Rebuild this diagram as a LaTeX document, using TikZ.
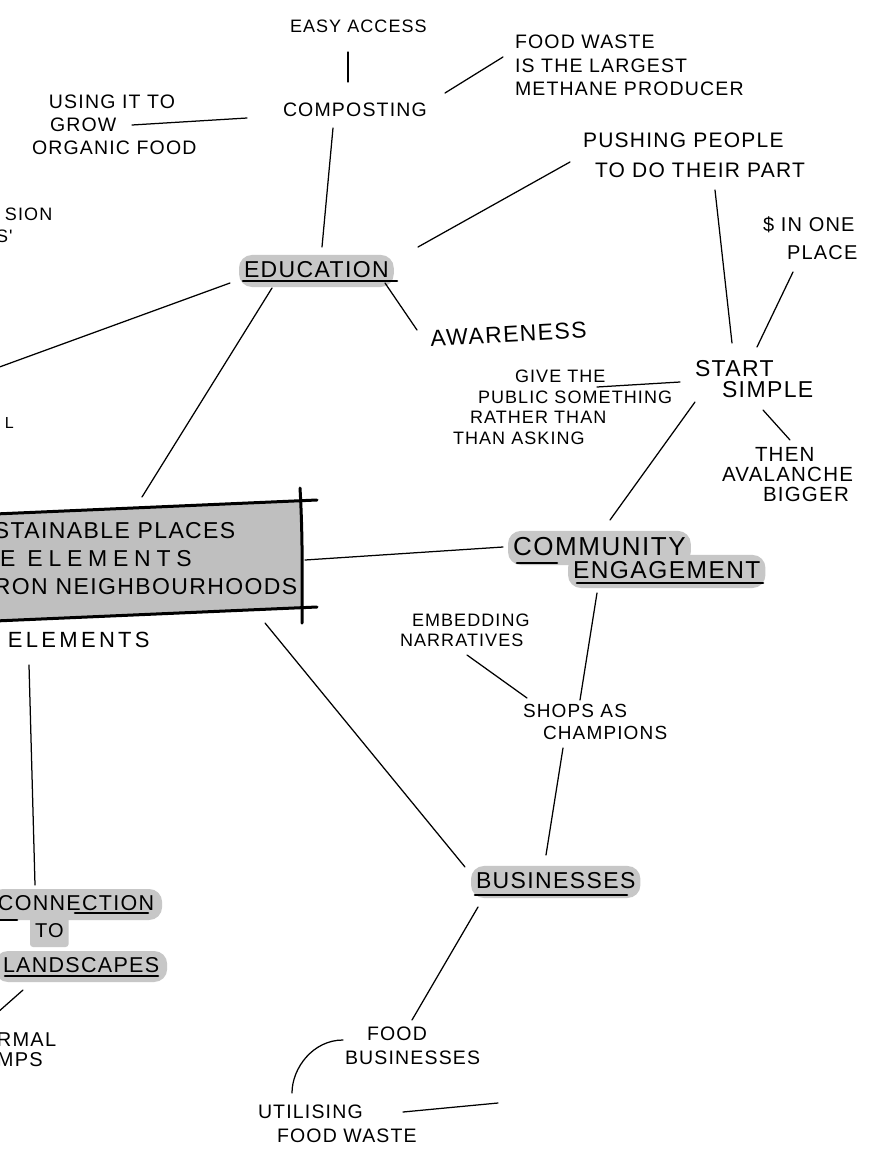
\documentclass[tikz,border=0pt]{standalone}
\usepackage{fontspec}
\newfontfamily\hand[LetterSpace=6]{Liberation Sans}
\newcommand{\hw}[2]{\hand\fontsize{#1}{#2}\selectfont}
\usetikzlibrary{calc}
\pgfdeclarelayer{paper}
\pgfdeclarelayer{shade}
\pgfsetlayers{paper,shade,main}
\definecolor{pillgray}{gray}{0.78}
\definecolor{boxgray}{gray}{0.75}

\tikzset{
  note/.style={anchor=north west, inner sep=0pt, outer sep=0pt, align=left, font=\hw{19}{23}},
  tag/.style={anchor=base west, inner xsep=5pt, inner ysep=6pt, text depth=4pt, outer sep=0pt},
  link/.style={line width=1.25pt, line cap=round},
  uline/.style={line width=2.6pt, line cap=round},
  frame/.style={line width=3pt, line cap=round},
  pill/.style={fill=pillgray, rounded corners=13pt},
}

\begin{document}
\begin{tikzpicture}[x=1pt,y=1pt]

\begin{pgfonlayer}{paper}
\fill[white] (0,0) rectangle (873,-1160);
\end{pgfonlayer}
\useasboundingbox (0,0) rectangle (873,-1160);
\clip (0,0) rectangle (873,-1160);

% Central box
\fill[boxgray] (-5,-514) -- (301,-501) -- (301,-607) -- (-5,-621) -- cycle;
\draw[frame] (-5,-514) -- (317,-500);
\draw[frame] (-5,-621) -- (317,-607);
\draw[frame] (300,-488) .. controls (303,-540) and (302,-580) .. (302,-623);

% Define nodes
\node[note, font=\hw{23}{28}] (core) at (-6,-522)
{STAINABLE PLACES\\{\addfontfeature{LetterSpace=25}\hspace*{6pt}E ELEMENTS}\\RON NEIGHBOURHOODS};
\node[note, font=\hw{18}{22}] (access) at (290,-20) {EASY ACCESS};
\node[note, font=\hw{19.5}{24}] (comp) at (283,-103) {COMPOSTING};
\node[note, font=\hw{19.5}{23.5}] (waste) at (515,-35)
{FOOD WASTE\\IS THE LARGEST\\METHANE PRODUCER};
\node[note, font=\hw{19.5}{23}] (grow) at (32,-95)
{\hspace*{17pt}USING IT TO\\\hspace*{18pt}GROW\\ORGANIC FOOD};
\node[tag, font=\hw{23}{26}] (edu) at (239,-277) {EDUCATION};
\node[note, font=\hw{21}{30}] (push) at (583,-133)
{PUSHING PEOPLE\\\hspace*{12pt}TO DO THEIR PART};
\node[note, font=\hw{20}{28}] (dollar) at (763,-217) {\$ IN ONE\\\hspace*{24pt}PLACE};
\node[note, font=\hw{23}{26}, rotate=3] (aware) at (430,-330) {AWARENESS};
\node[note, font=\hw{23}{21}] (start) at (695,-360) {START\\\hspace*{27pt}SIMPLE};
\node[note, font=\hw{18}{20.5}] (give) at (453,-370)
{\hspace*{62pt}GIVE THE\\\hspace*{25pt}PUBLIC SOMETHING\\\hspace*{17pt}RATHER THAN\\THAN ASKING};
\node[note, font=\hw{20.5}{20}] (then) at (722,-447)
{\hspace*{33pt}THEN\\AVALANCHE\\\hspace*{41pt}BIGGER};
\node[tag, font=\hw{24.5}{28}] (eng) at (568,-578) {ENGAGEMENT};
\node[tag, font=\hw{26}{28}] (comm) at (508,-555) {COMMUNITY};
\node[note, font=\hw{18}{20}] (embed) at (400,-614) {\hspace*{12pt}EMBEDDING\\NARRATIVES};
\node[note, font=\hw{19}{22.5}] (shops) at (523,-704) {SHOPS AS\\\hspace*{20pt}CHAMPIONS};
\node[tag, font=\hw{23}{26}] (biz) at (471,-888) {BUSINESSES};
\node[note, font=\hw{19.5}{24}] (food) at (345,-1027) {\hspace*{22pt}FOOD\\BUSINESSES};
\node[note, font=\hw{19.5}{24}] (util) at (258,-1105) {UTILISING\\\hspace*{19pt}FOOD WASTE};
\node[note, font=\hw{22}{26}] (elem) at (8,-632) {\addfontfeature{LetterSpace=15}ELEMENTS};
\node[tag, font=\hw{21.5}{24}, inner xsep=8pt] (conn) at (-10,-910) {CONNECTION};
\node[tag, font=\hw{20}{24}] (to) at (30,-937) {TO};
\node[tag, font=\hw{21.5}{24}, inner xsep=8pt] (land) at (-5,-972) {LANDSCAPES};
\node[note, font=\hw{18}{22}] (sion) at (-4,-208) {\hspace*{9pt}SION\\S'};
\node[note, font=\hw{16}{20}] (ell) at (5,-417) {L};
\node[note, font=\hw{20}{20}] (infrm) at (-3,-1033) {RMAL\\MPS};

\coordinate (lftA) at (-6,-369);
\coordinate (lftB) at (-3,-1013);
\coordinate (utilEnd) at (498,-1103);

% Pills
\begin{pgfonlayer}{shade}
\foreach \t in {edu,comm,eng,biz,conn,land}
  \fill[pill] (\t.south west) rectangle (\t.north east);
\fill[pill, rounded corners=3pt] (to.south west) rectangle (to.north east);
\end{pgfonlayer}

\draw[uline] ($(edu.base west)+(4,-4)$) -- ($(edu.base west)+(158,-4)$);
\draw[uline] ($(comm.base west)+(9,-8)$) -- ($(comm.base west)+(49,-8)$);
\draw[uline] ($(eng.base west)+(9,-5)$) -- ($(eng.base west)+(195,-5)$);
\draw[uline] ($(biz.base west)+(4,-7)$) -- ($(biz.base west)+(156,-7)$);
\draw[uline] ($(conn.base west)+(85,-3)$) -- ($(conn.base west)+(158,-3)$);
\draw[uline] ($(conn.base west)+(5,-10)$) -- ($(conn.base west)+(27,-10)$);
\draw[uline] ($(land.base west)+(10,-4)$) -- ($(land.base west)+(163,-4)$);

% Links
\draw[link] ($(access.north west)+(58,-32)$) -- ($(comp.north west)+(65,21)$);
\draw[link] ($(comp.north west)+(162,10)$) -- ($(waste.north west)+(-12,-22)$);
\draw[link] ($(grow.north west)+(100,-30)$) -- ($(comp.north west)+(-36,-15)$);
\draw[link] ($(comp.north west)+(50,-25)$) -- ($(edu.base west)+(83,30)$);
\draw[link] ($(edu.base west)+(179,30)$) -- ($(push.north west)+(-13,-29)$);
\draw[link] ($(edu.base west)+(146,-6)$) -- ($(aware.north west)+(-13,0)$);
\draw[link] ($(edu.base west)+(-9,-6)$) -- (lftA);
\draw[link] ($(edu.base west)+(33,-11)$) -- ($(core.north west)+(148,25)$);
\draw[link] ($(push.north west)+(132,-57)$) -- ($(start.north west)+(37,17)$);
\draw[link] ($(dollar.north west)+(30,-55)$) -- ($(start.north west)+(62,13)$);
\draw[link] ($(start.north west)+(-15,-22)$) -- ($(give.north west)+(144,-17)$);
\draw[link] ($(start.north west)+(68,-50)$) -- ($(then.north west)+(68,7)$);
\draw[link] ($(start.north west)+(0,-42)$) -- ($(comm.base west)+(102,35)$);
\draw[link] ($(core.north west)+(311,-38)$) -- ($(comm.base west)+(-5,8)$);
\draw[link] ($(eng.base west)+(29,-15)$) -- ($(shops.north west)+(57,4)$);
\draw[link] ($(embed.north west)+(67,-41)$) -- ($(shops.north west)+(4,6)$);
\draw[link] ($(shops.north west)+(40,-44)$) -- ($(biz.base west)+(75,33)$);
\draw[link] ($(core.north west)+(271,-101)$) -- ($(biz.base west)+(-6,21)$);
\draw[link] ($(biz.base west)+(7,-19)$) -- ($(food.north west)+(67,7)$);
\draw[link] ($(food.north west)+(-2,-13)$) .. controls +(-30,0) and +(0,25) .. ($(util.north west)+(34,12)$);
\draw[link] ($(util.north west)+(145,-7)$) -- (utilEnd);
\draw[link] ($(elem.north west)+(21,-33)$) -- ($(conn.base west)+(45,25)$);
\draw[link] ($(land.base west)+(28,-18)$) -- (lftB);

\end{tikzpicture}
\end{document}
